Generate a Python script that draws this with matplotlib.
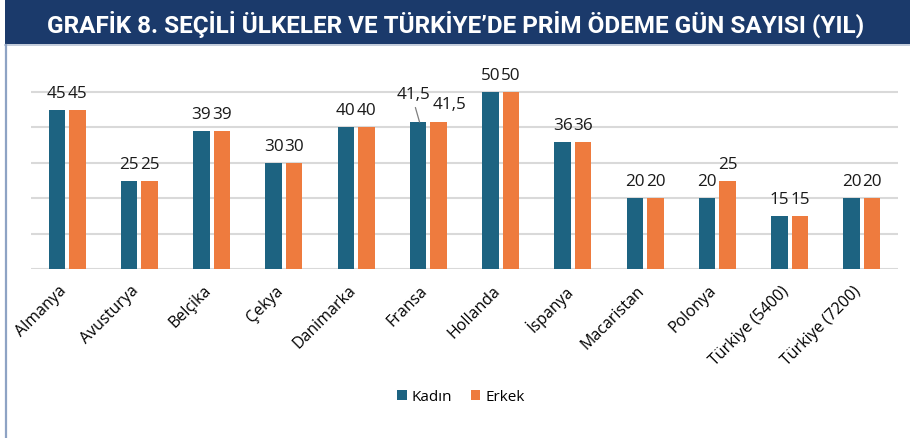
import matplotlib
matplotlib.use("Agg")
import matplotlib.pyplot as plt
import matplotlib.transforms as mtransforms
from matplotlib.patches import Rectangle
from matplotlib.lines import Line2D
import numpy as np

title = "GRAFİK 8. SEÇİLİ ÜLKELER VE TÜRKİYE’DE PRİM ÖDEME GÜN SAYISI (YIL)"
categories = ["Almanya", "Avusturya", "Belçika", "Çekya", "Danimarka", "Fransa",
              "Hollanda", "İspanya", "Macaristan", "Polonya", "Türkiye (5400)", "Türkiye (7200)"]
kadin = [45, 25, 39, 30, 40, 41.5, 50, 36, 20, 20, 15, 20]
erkek = [45, 25, 39, 30, 40, 41.5, 50, 36, 20, 25, 15, 20]
series_names = ["Kadın", "Erkek"]

C_K = "#1d6381"
C_E = "#ee7b3e"
NAVY = "#1b3a6b"
FONT = "Open Sans"

W, H = 910, 439
fig = plt.figure(figsize=(W / 100, H / 100), dpi=100)

# title bar
fig.patches.append(Rectangle((5 / W, 1 - 45 / H), 1 - 5 / W, 45 / H, transform=fig.transFigure,
                             facecolor=NAVY, edgecolor="none", zorder=0))
fig.lines.append(Line2D([5 / W, 1], [1 - 46 / H, 1 - 46 / H], transform=fig.transFigure,
                        color="#b9c4d4", lw=1.2))
fig.lines.append(Line2D([5.8 / W, 5.8 / W], [0, 1 - 46 / H], transform=fig.transFigure,
                        color="#8ea3c4", lw=1.6))
fig.text(455.5 / W, 1 - 32.5 / H, title, color="white", fontsize=17.5, fontweight="bold",
         family="Roboto", ha="center", va="baseline")

left, right, bottom_px = 31, 898, 270
ymax = 55
px_per = (270 - 93) / 50
top_px = bottom_px - ymax * px_per
ax = fig.add_axes([left / W, 1 - bottom_px / H, (right - left) / W, (bottom_px - top_px) / H])

x = np.arange(len(categories))
bw = 0.228
off = 0.142
bk = ax.bar(x - off, kadin, bw, color=C_K, label=series_names[0], zorder=3)
be = ax.bar(x + off, erkek, bw, color=C_E, label=series_names[1], zorder=3)

ax.set_xlim(-0.5, len(categories) - 0.5)
ax.set_ylim(0, ymax)
ax.set_yticks([0, 10, 20, 30, 40, 50])
ax.yaxis.grid(True, color="#d9d9d9", lw=1.5, zorder=0)
ax.tick_params(axis="y", left=False, labelleft=False)
ax.tick_params(axis="x", length=0, pad=13.5)
for s in ax.spines.values():
    s.set_visible(False)

ax.set_xticks(x)
ax.set_xticklabels(categories, rotation=45, ha="right", va="center", rotation_mode="anchor",
                   family=FONT, fontsize=11.5)
shift = mtransforms.ScaledTranslation(-3 / 100, 0, fig.dpi_scale_trans)
for lab in ax.get_xticklabels():
    lab.set_transform(lab.get_transform() + shift)

def fmt(v):
    return ("%g" % v).replace(".", ",")

lab_kw = dict(textcoords="offset points", ha="center", va="baseline", family=FONT,
              fontsize=12.3, color="#1a1a1a")
for i, (k, e) in enumerate(zip(kadin, erkek)):
    if categories[i] == "Fransa":
        ax.annotate(fmt(k), (x[i] - off, k), xytext=(-3.6, 17), **lab_kw)
        ax.annotate("", (x[i] - off + 0.02, k), xytext=(-3, 10.5), textcoords="offset points",
                    arrowprops=dict(arrowstyle="-", color="#7f7f7f", lw=0.9, shrinkA=0, shrinkB=0))
        ax.annotate(fmt(e), (x[i] + off, e), xytext=(7.5, 9.8), **lab_kw)
    else:
        ax.annotate(fmt(k), (x[i] - off, k), xytext=(0, 9.3), **lab_kw)
        ax.annotate(fmt(e), (x[i] + off, e), xytext=(0, 9.3), **lab_kw)

fig.legend(handles=[bk, be], labels=series_names, loc="center", ncol=2,
           bbox_to_anchor=(461 / W, 1 - 398 / H), frameon=False,
           prop=dict(family=FONT, size=11), handlelength=0.6, handleheight=0.6,
           handletextpad=0.35, columnspacing=1.2)

fig.savefig("out.png", dpi=100)
